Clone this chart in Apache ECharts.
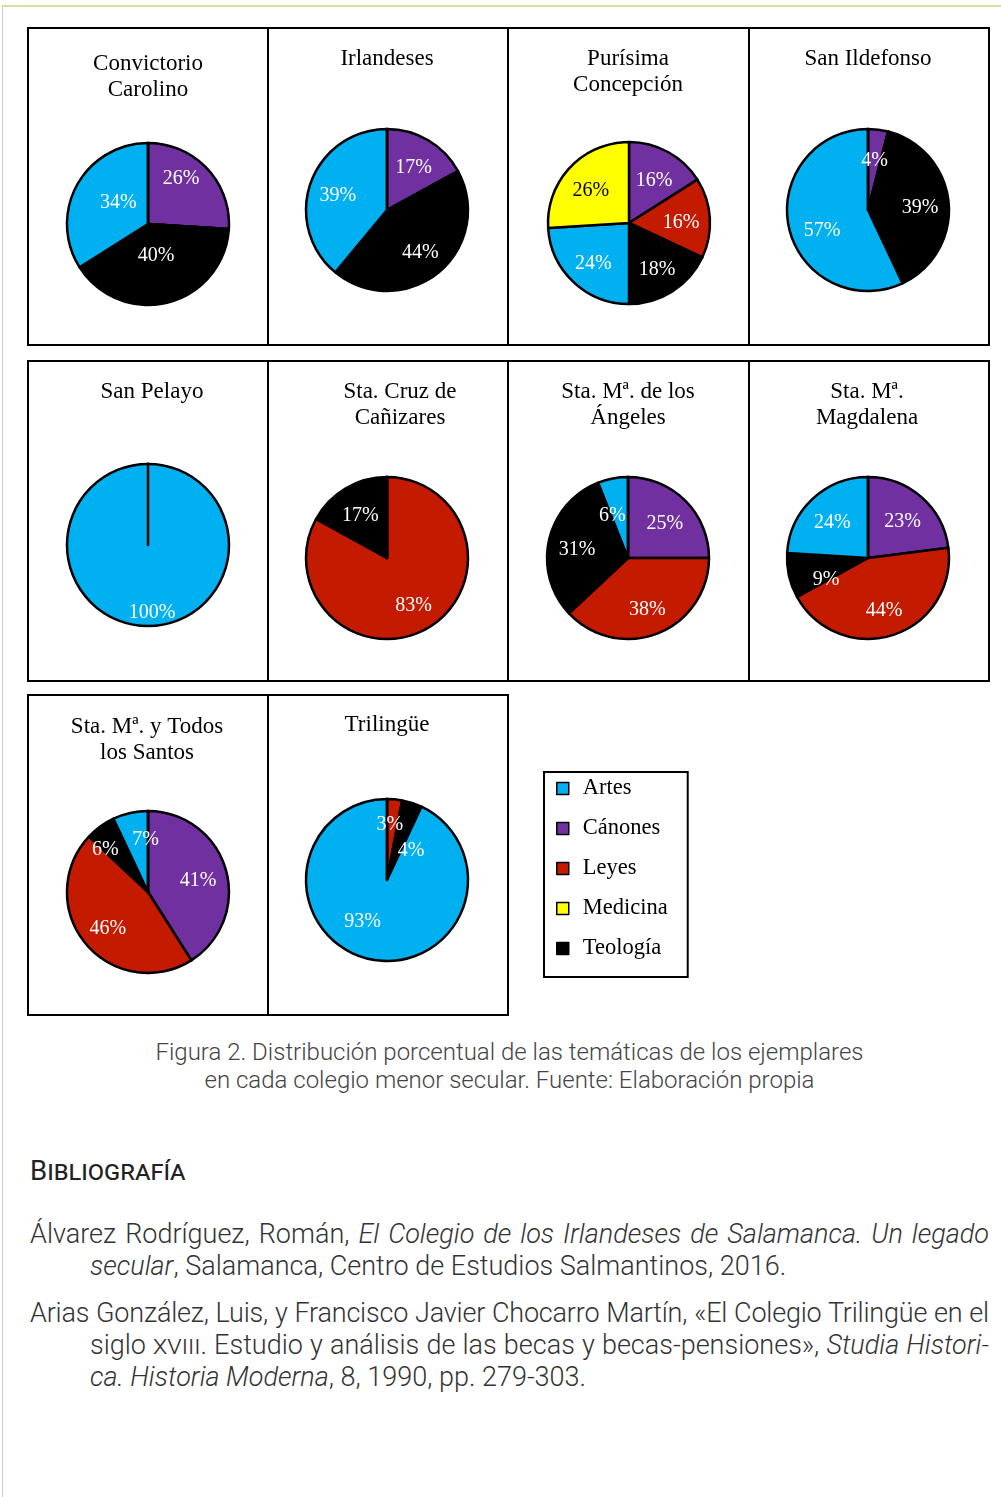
<!DOCTYPE html>
<html>
<head>
<meta charset="utf-8">
<script src="https://cdn.jsdelivr.net/npm/echarts@6/dist/echarts.min.js"></script>
<style>
  body { margin: 0; width: 1001px; height: 1497px; background: #fff; position: relative; overflow: hidden; }
  .page { position: absolute; left: 2px; top: 5px; right: 0; bottom: 0; border-top: 2px solid #d3e29b; border-left: 1px solid #cfcfc4; }
  #chart { position: absolute; left: 0; top: 0; width: 1001px; height: 1030px; }
  .caption { position: absolute; left: 30px; width: 959px; top: 1038px; text-align: center; font: 300 24px/28px Roboto; color: #444; }
  .bib-head { position: absolute; left: 30px; top: 1156px; font: 400 27.5px/30px Roboto; font-variant: small-caps; color: #222; }
  .bib { position: absolute; left: 30px; width: 959px; top: 1218px; font: 300 27px/32px Roboto; color: #333; }
  .para { margin: 0 0 15px; }
  .ln { white-space: nowrap; overflow: hidden; }
  .j { text-align: justify; text-align-last: justify; }
  .in { margin-left: 60px; }
  .sc { font-variant: small-caps; }
</style>
</head>
<body>
<div class="page"></div>
<div id="chart"></div>
<div class="caption">Figura 2. Distribución porcentual de las temáticas de los ejemplares<br>en cada colegio menor secular. Fuente: Elaboración propia</div>
<div class="bib-head">Bibliografía</div>
<div class="bib">
  <div class="para">
    <div class="ln j">Álvarez Rodríguez, Román, <i>El Colegio de los Irlandeses de Salamanca. Un legado</i></div>
    <div class="ln in"><i>secular</i>, Salamanca, Centro de Estudios Salmantinos, 2016.</div>
  </div>
  <div class="para">
    <div class="ln j">Arias González, Luis, y Francisco Javier Chocarro Martín, «El Colegio Trilingüe en el</div>
    <div class="ln j in">siglo <span class="sc">xviii</span>. Estudio y análisis de las becas y becas-pensiones», <i>Studia Histori-</i></div>
    <div class="ln in"><i>ca. Historia Moderna</i>, 8, 1990, pp. 279-303.</div>
  </div>
</div>
<script>
// slice order inside every pie (clockwise from 12 o'clock)
const categories = ['Cánones', 'Leyes', 'Teología', 'Artes', 'Medicina'];
const legendOrder = ['Artes', 'Cánones', 'Leyes', 'Medicina', 'Teología'];
const colleges = [
  'Convictorio\nCarolino', 'Irlandeses', 'Purísima\nConcepción', 'San Ildefonso',
  'San Pelayo', 'Sta. Cruz de\nCañizares', 'Sta. Mª. de los\nÁngeles', 'Sta. Mª.\nMagdalena',
  'Sta. Mª. y Todos\nlos Santos', 'Trilingüe'
];
// percentages, same order as categories
const convictorio = [26, 0, 40, 34, 0];
const irlandeses = [17, 0, 44, 39, 0];
const purisima = [16, 16, 18, 24, 26];
const sanIldefonso = [4, 0, 39, 57, 0];
const sanPelayo = [0, 0, 0, 100, 0];
const cruzCanizares = [0, 83, 17, 0, 0];
const angeles = [25, 38, 31, 6, 0];
const magdalena = [23, 44, 9, 24, 0];
const todosSantos = [41, 46, 6, 7, 0];
const trilingue = [0, 3, 4, 93, 0];
const values = [convictorio, irlandeses, purisima, sanIldefonso, sanPelayo,
  cruzCanizares, angeles, magdalena, todosSantos, trilingue];

const colors = { 'Artes': '#00b0f0', 'Cánones': '#7030a0', 'Leyes': '#c41a00', 'Medicina': '#ffff00', 'Teología': '#000000' };
const serif = 'Liberation Serif';

// layout of the panels
const colX = [28, 268, 508, 749, 989];
const rows = [{ y: 28, h: 317, n: 4 }, { y: 361, h: 320, n: 4 }, { y: 695, h: 320, n: 2 }];
const pieCenters = [[148, 224], [387, 210], [629, 223], [868, 210], [148, 545],
  [387, 558], [628, 558], [868, 558], [148, 892], [387, 880]];
const titleTops = [51, 46, 46, 46, 379, 379, 379, 379, 714, 712];
const titleX = [148, 387, 628, 868, 152, 400, 628, 867, 147, 387];
// labels sit a bit further out than echarts' half radius, a few moved by hand
const labelFactor = 1.2;
const labelDrop = 3;
const labelNudge = { '0-0': [-5, -13], '0-2': [-5, -22], '0-3': [16, 1], '3-3': [5, 6], '4-3': [4, 13],
  '6-3': [-6, 6], '7-2': [9, 7], '8-2': [-12, -3], '8-3': [9, -4],
  '9-1': [-2, -6], '9-2': [8, 17], '9-3': [-13, -12] };

const graphic = [];
rows.forEach(function (r) {
  for (let c = 0; c < r.n; c++) {
    graphic.push({
      type: 'rect',
      shape: { x: colX[c], y: r.y, width: colX[c + 1] - colX[c], height: r.h },
      style: { fill: null, stroke: '#000', lineWidth: 2 }
    });
  }
});
colleges.forEach(function (name, i) {
  graphic.push({
    type: 'text', x: titleX[i], y: titleTops[i],
    style: { text: name, align: 'center', verticalAlign: 'top', fontFamily: serif, fontSize: 23, lineHeight: 26, fill: '#000' }
  });
});

function moveLabel(p) {
  const c = pieCenters[p.seriesIndex];
  const lx = p.labelRect.x + p.labelRect.width / 2;
  const ly = p.labelRect.y + p.labelRect.height / 2;
  const n = labelNudge[p.seriesIndex + '-' + p.dataIndex] || [0, 0];
  return {
    dx: (lx - c[0]) * (labelFactor - 1) + n[0],
    dy: (ly - c[1]) * (labelFactor - 1) + n[1] + labelDrop,
    hideOverlap: false
  };
}

const series = values.map(function (vals, i) {
  return {
    type: 'pie',
    center: pieCenters[i],
    radius: 81,
    startAngle: 90,
    clockwise: true,
    avoidLabelOverlap: false,
    silent: true,
    emphasis: { scale: false },
    label: { position: 'inside', formatter: '{c}%', color: '#fff', fontFamily: serif, fontSize: 20 },
    labelLine: { show: false },
    labelLayout: moveLabel,
    itemStyle: { borderColor: '#000', borderWidth: 2.5 },
    data: categories.map(function (cat, k) {
      return {
        name: cat,
        value: vals[k],
        itemStyle: { color: colors[cat] },
        label: { show: vals[k] > 0, color: cat === 'Medicina' ? '#000' : '#fff' }
      };
    })
  };
});

const chart = echarts.init(document.getElementById('chart'));
chart.setOption({
  animation: false,
  legend: {
    data: legendOrder,
    orient: 'vertical',
    left: 544,
    top: 772,
    padding: [5, 20, 17, 12],
    itemGap: 17,
    itemWidth: 12,
    itemHeight: 12,
    icon: 'rect',
    borderColor: '#000',
    borderWidth: 2,
    selectedMode: false,
    itemStyle: { borderColor: '#000', borderWidth: 1.5 },
    textStyle: { fontFamily: serif, fontSize: 22.5, color: '#000', padding: [0, 0, 0, 9] }
  },
  graphic: graphic,
  series: series
});

// squeeze a bibliography line only if it would not fit its box
document.querySelectorAll('.ln').forEach(function (el) {
  let ls = 0;
  while (el.scrollWidth > el.clientWidth && ls > -2) {
    ls -= 0.1;
    el.style.letterSpacing = ls + 'px';
  }
});
</script>
</body>
</html>
